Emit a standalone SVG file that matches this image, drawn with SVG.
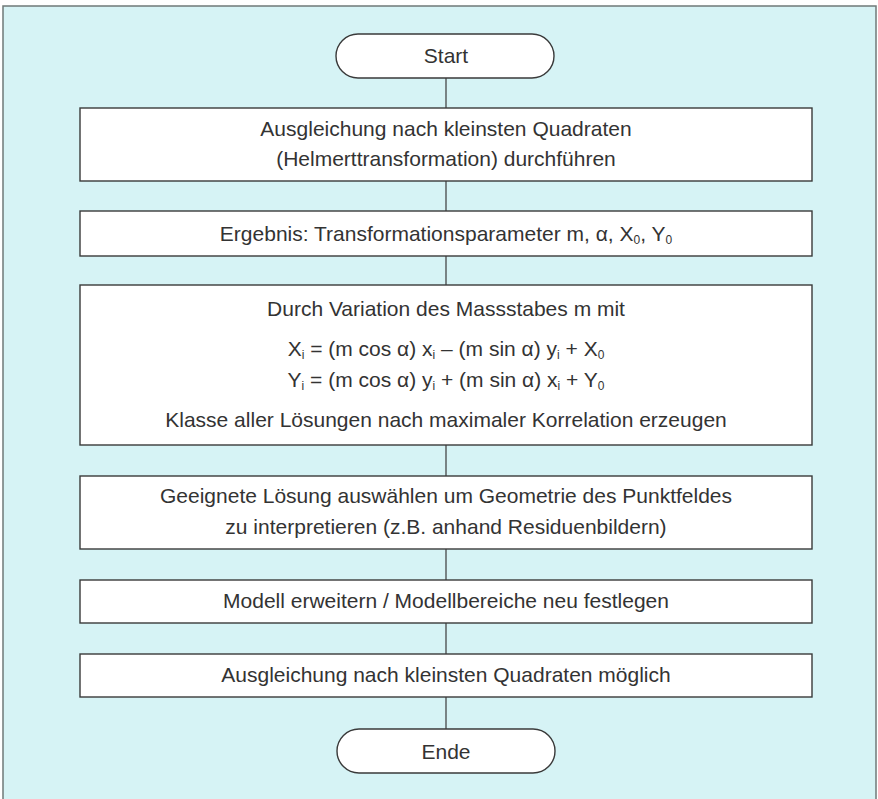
<svg xmlns="http://www.w3.org/2000/svg" width="878" height="799" viewBox="0 0 878 799">
<style>
.box{fill:#ffffff;stroke:#3a3a3a;stroke-width:1.4}
.t{font-family:"Liberation Sans",Arial,sans-serif;font-size:21px;fill:#333333;text-anchor:middle}
.sub{font-size:12px}
.conn line{stroke:#3a3a3a;stroke-width:1.2}
</style>
<rect x="0" y="0" width="878" height="799" fill="#ffffff"/>
<rect id="frame" x="3" y="6" width="873" height="800" fill="#d6f3f5" stroke="#6f7a78" stroke-width="1.5"/>
<g class="conn" id="connectors">
<line x1="446" y1="78" x2="446" y2="108"/>
<line x1="446" y1="181" x2="446" y2="211"/>
<line x1="446" y1="256" x2="446" y2="285"/>
<line x1="446" y1="445" x2="446" y2="476"/>
<line x1="446" y1="549" x2="446" y2="580"/>
<line x1="446" y1="623" x2="446" y2="654"/>
<line x1="446" y1="697" x2="446" y2="729"/>
</g>
<g id="start">
<rect class="box" x="336" y="34" width="218" height="44" rx="22" ry="22"/>
<text class="t" x="446" y="63">Start</text>
</g>
<g id="box1">
<rect class="box" x="80" y="108" width="732" height="73"/>
<text class="t" x="446" y="136">Ausgleichung nach kleinsten Quadraten</text>
<text class="t" x="446" y="166">(Helmerttransformation) durchführen</text>
</g>
<g id="box2">
<rect class="box" x="80" y="211" width="732" height="45"/>
<text class="t" x="446" y="241">Ergebnis: Transformationsparameter m, α, X<tspan class="sub" dy="3">0</tspan><tspan dy="-3">, Y</tspan><tspan class="sub" dy="3">0</tspan></text>
</g>
<g id="box3">
<rect class="box" x="80" y="285" width="732" height="160"/>
<text class="t" x="446" y="316">Durch Variation des Massstabes m mit</text>
<text class="t" x="446" y="356">X<tspan class="sub" dy="3">i</tspan><tspan dy="-3"> = (m cos α) x</tspan><tspan class="sub" dy="3">i</tspan><tspan dy="-3"> – (m sin α) y</tspan><tspan class="sub" dy="3">i</tspan><tspan dy="-3"> + X</tspan><tspan class="sub" dy="3">0</tspan></text>
<text class="t" x="446" y="387">Y<tspan class="sub" dy="3">i</tspan><tspan dy="-3"> = (m cos α) y</tspan><tspan class="sub" dy="3">i</tspan><tspan dy="-3"> + (m sin α) x</tspan><tspan class="sub" dy="3">i</tspan><tspan dy="-3"> + Y</tspan><tspan class="sub" dy="3">0</tspan></text>
<text class="t" x="446" y="427">Klasse aller Lösungen nach maximaler Korrelation erzeugen</text>
</g>
<g id="box4">
<rect class="box" x="80" y="476" width="732" height="73"/>
<text class="t" x="446" y="503">Geeignete Lösung auswählen um Geometrie des Punktfeldes</text>
<text class="t" x="446" y="534">zu interpretieren (z.B. anhand Residuenbildern)</text>
</g>
<g id="box5">
<rect class="box" x="80" y="580" width="732" height="43"/>
<text class="t" x="446" y="608">Modell erweitern / Modellbereiche neu festlegen</text>
</g>
<g id="box6">
<rect class="box" x="80" y="654" width="732" height="43"/>
<text class="t" x="446" y="682">Ausgleichung nach kleinsten Quadraten möglich</text>
</g>
<g id="ende">
<rect class="box" x="337" y="729" width="218" height="44" rx="22" ry="22"/>
<text class="t" x="446" y="759">Ende</text>
</g>
</svg>
